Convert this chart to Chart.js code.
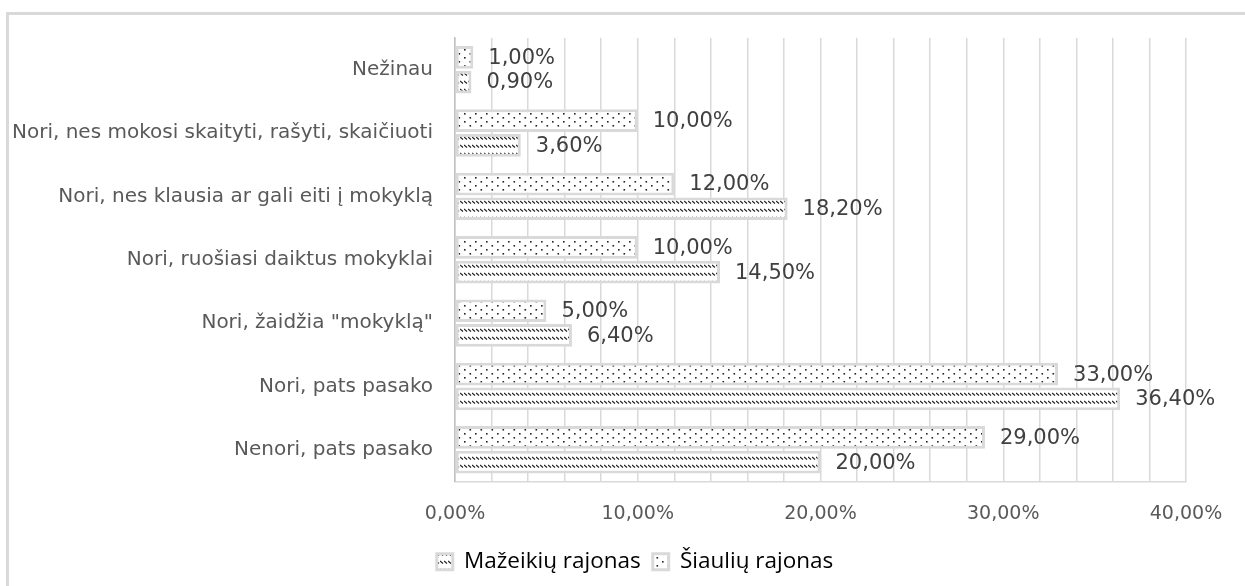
<!DOCTYPE html>
<html>
<head>
    <title>Ar vaikas nori eiti į mokyklą</title>
    <script src="https://cdn.jsdelivr.net/npm/chart.js"></script>
    <style>
        body { margin: 0; background: #fff; overflow: hidden; }
        #frame { position: absolute; left: 6px; top: 12px; width: 1300px; height: 650px;
                 border-top: 3px solid #d9d9d9; border-left: 3px solid #d9d9d9; }
        #chart { position: absolute; left: 0; top: 0; }
    </style>
</head>
<body>
    <div id="frame"></div>
    <canvas id="chart" width="1245" height="586"></canvas>

    <script>
        var categories = [
            "Nežinau",
            "Nori, nes mokosi skaityti, rašyti, skaičiuoti",
            "Nori, nes klausia ar gali eiti į mokyklą",
            "Nori, ruošiasi daiktus mokyklai",
            "Nori, žaidžia \"mokyklą\"",
            "Nori, pats pasako",
            "Nenori, pats pasako"
        ];
        var siauliai = [1.0, 10.0, 12.0, 10.0, 5.0, 33.0, 29.0];
        var mazeikiai = [0.9, 3.6, 18.2, 14.5, 6.4, 36.4, 20.0];
        var xTicks = [0, 10, 20, 30, 40];

        function fmt(v) {
            return v.toFixed(2).replace(".", ",") + "%";
        }

        // fill patterns, like the Excel pattern fills
        function dotPattern() {
            var c = document.createElement("canvas");
            c.width = 11; c.height = 8;
            var g = c.getContext("2d");
            g.fillStyle = "#fff";
            g.fillRect(0, 0, 11, 8);
            g.fillStyle = "#222";
            g.fillRect(2, 1, 1.6, 1.6);
            g.fillRect(7.5, 5, 1.6, 1.6);
            return g.createPattern(c, "repeat");
        }
        function zigPattern() {
            var c = document.createElement("canvas");
            c.width = 4; c.height = 8;
            var g = c.getContext("2d");
            g.fillStyle = "#fff";
            g.fillRect(0, 0, 4, 8);
            g.strokeStyle = "#222";
            g.lineWidth = 1.2;
            g.beginPath();
            g.moveTo(0, 1);
            g.lineTo(3, 3.5);
            g.stroke();
            return g.createPattern(c, "repeat");
        }

        var valueLabels = {
            id: "valueLabels",
            afterDatasetsDraw: function (chart) {
                var ctx = chart.ctx;
                ctx.save();
                ctx.font = "21px 'DejaVu Sans'";
                ctx.fillStyle = "#404040";
                ctx.textBaseline = "middle";
                ctx.textAlign = "left";
                chart.data.datasets.forEach(function (ds, i) {
                    chart.getDatasetMeta(i).data.forEach(function (el, j) {
                        ctx.fillText(fmt(ds.data[j]), el.x + 15, el.y + 1);
                    });
                });
                ctx.restore();
            }
        };

        // the legend sits a little right of centre in the original
        var legendShift = {
            id: "legendShift",
            afterLayout: function (chart) {
                chart.legend.left += 36;
                chart.legend.right += 36;
            }
        };

        var ctx = document.getElementById("chart").getContext("2d");
        var chart = new Chart(ctx, {
            type: "bar",
            data: {
                labels: categories,
                datasets: [{
                    label: "Šiaulių rajonas",
                    data: siauliai,
                    backgroundColor: dotPattern(),
                    borderColor: "#d9d9d9",
                    borderWidth: 3,
                    borderSkipped: false
                }, {
                    label: "Mažeikių rajonas",
                    data: mazeikiai,
                    backgroundColor: zigPattern(),
                    borderColor: "#d9d9d9",
                    borderWidth: 3,
                    borderSkipped: false
                }]
            },
            options: {
                indexAxis: "y",
                responsive: false,
                animation: false,
                categoryPercentage: 0.78,
                barPercentage: 0.92,
                layout: { padding: { left: 12, right: 59, top: 38, bottom: 3 } },
                scales: {
                    x: {
                        min: 0,
                        max: 40,
                        afterFit: function (scale) { scale.height = 57; },
                        ticks: {
                            stepSize: 2,
                            autoSkip: false,
                            maxRotation: 0,
                            color: "#595959",
                            font: { family: "DejaVu Sans", size: 19 },
                            padding: 21,
                            callback: function (v) {
                                return xTicks.indexOf(v) >= 0 ? fmt(v) : "";
                            }
                        },
                        grid: { color: "#d9d9d9", lineWidth: 1.5, drawTicks: false },
                        border: { color: "#d9d9d9", width: 1.5 }
                    },
                    y: {
                        afterFit: function (scale) { scale.width = 443; },
                        ticks: {
                            color: "#595959",
                            font: { family: "DejaVu Sans", size: 20 },
                            padding: 22
                        },
                        grid: { display: false, drawTicks: false },
                        border: { color: "#bfbfbf", width: 1.5 }
                    }
                },
                plugins: {
                    legend: {
                        position: "bottom",
                        reverse: true,
                        labels: {
                            color: "#000",
                            font: { family: "Open Sans", size: 22.5 },
                            boxWidth: 16,
                            boxHeight: 16,
                            padding: 12
                        }
                    },
                    tooltip: { enabled: false }
                }
            },
            plugins: [valueLabels, legendShift]
        });
    </script>
</body>
</html>
